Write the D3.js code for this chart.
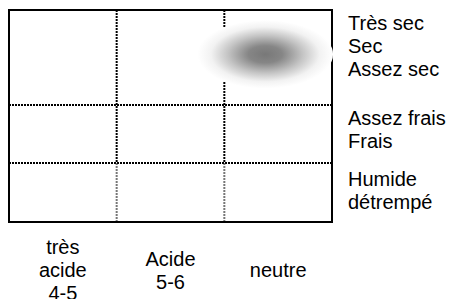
<!DOCTYPE html>
<html>
<head>
<meta charset="utf-8">
<script src="https://cdn.jsdelivr.net/npm/d3@7"></script>
<style>
  body { margin: 0; background: #fff; }
  text { font-family: "Liberation Sans", Arial, sans-serif; fill: #000; }
</style>
</head>
<body>
<div id="chart"></div>
<script>
// size of the picture
let w = 451;
let h = 299;
let frame = {left: 9, right: 332, top: 10, bottom: 222};
let fontSize = 20;
let lineGap = 23;

// pH columns (bottom labels, one array per column)
let phColumns = ["4-5", "5-6", "6-7"];
let phLabels = [["très", "acide", "4-5"], ["Acide", "5-6"], ["neutre"]];

// moisture groups (right labels)
let moistGroups = [
  ["Très sec", "Sec", "Assez sec"],
  ["Assez frais", "Frais"],
  ["Humide", "détrempé"]
];
// cumulative moisture level at each group border
let moistBreaks = [0, 3, 5, 7];

// ecological optimum (pH, moisture level) with its spread
let optimumPh = [6.38];
let optimumLevel = [1.4];
let spreadPh = [0.63];
let spreadLevel = [1.08];

var svg = d3.select("#chart")
            .append("svg")
            .attr("width", w)
            .attr("height", h);

var x = d3.scaleBand()
          .domain(phColumns)
          .range([frame.left, frame.right]);

var xPh = d3.scaleLinear()
            .domain([4, 7])
            .range([frame.left, frame.right]);

var y = d3.scaleLinear()
          .domain(moistBreaks)
          .range([frame.top, 105, 163, frame.bottom]);

// dotted grid, vertical lines (black above last row, grey in last row)
var inner = phColumns.slice(1);
svg.selectAll("line.vtop")
   .data(inner)
   .enter()
   .append("line")
   .attr("x1", function(d) { return x(d); })
   .attr("x2", function(d) { return x(d); })
   .attr("y1", frame.top)
   .attr("y2", y(5))
   .style("stroke", "#000")
   .style("stroke-width", 2)
   .style("stroke-dasharray", "2,1");

svg.selectAll("line.vbot")
   .data(inner)
   .enter()
   .append("line")
   .attr("x1", function(d) { return x(d); })
   .attr("x2", function(d) { return x(d); })
   .attr("y1", y(5))
   .attr("y2", frame.bottom)
   .style("stroke", "#777")
   .style("stroke-width", 2)
   .style("stroke-dasharray", "2,1");

svg.selectAll("line.h")
   .data(moistBreaks.slice(1, -1))
   .enter()
   .append("line")
   .attr("x1", frame.left)
   .attr("x2", frame.right)
   .attr("y1", function(d) { return y(d); })
   .attr("y2", function(d) { return y(d); })
   .style("stroke", "#000")
   .style("stroke-width", 2)
   .style("stroke-dasharray", "2,1");

// frame
svg.append("rect")
   .attr("x", frame.left)
   .attr("y", frame.top)
   .attr("width", frame.right - frame.left)
   .attr("height", frame.bottom - frame.top)
   .style("fill", "none")
   .style("stroke", "#000")
   .style("stroke-width", 2);

// blurred optimum
var grad = svg.append("defs")
              .append("radialGradient")
              .attr("id", "blob");
grad.selectAll("stop")
    .data([[0, "#787878"], [0.25, "#868686"], [0.55, "#c4c4c4"], [0.8, "#f2f2f2"], [1, "#ffffff"]])
    .enter()
    .append("stop")
    .attr("offset", function(d) { return d[0]; })
    .attr("stop-color", function(d) { return d[1]; });

svg.selectAll("ellipse")
   .data(optimumPh)
   .enter()
   .append("ellipse")
   .attr("cx", function(d) { return xPh(d); })
   .attr("cy", function(d, i) { return y(optimumLevel[i]); })
   .attr("rx", function(d, i) { return xPh(4 + spreadPh[i]) - xPh(4); })
   .attr("ry", function(d, i) { return y(spreadLevel[i]) - y(0); })
   .style("fill", "url(#blob)");

// right labels
moistGroups.forEach(function(group, gi) {
    svg.selectAll("text.m" + gi)
       .data(group)
       .enter()
       .append("text")
       .attr("x", 348)
       .attr("y", function(d, i) { return y(moistBreaks[gi]) + 20 + (gi == 2 ? 3 : 0) + i * lineGap; })
       .style("font-size", fontSize + "px")
       .text(function(d) { return d; });
});

// bottom labels, vertically centred
phLabels.forEach(function(lines, ci) {
    var mid = 277;
    svg.selectAll("text.p" + ci)
       .data(lines)
       .enter()
       .append("text")
       .attr("x", x(phColumns[ci]) + x.bandwidth() / 2)
       .attr("y", function(d, i) { return mid + (i - (lines.length - 1) / 2) * lineGap; })
       .attr("text-anchor", "middle")
       .style("font-size", fontSize + "px")
       .text(function(d) { return d; });
});
</script>
</body>
</html>
